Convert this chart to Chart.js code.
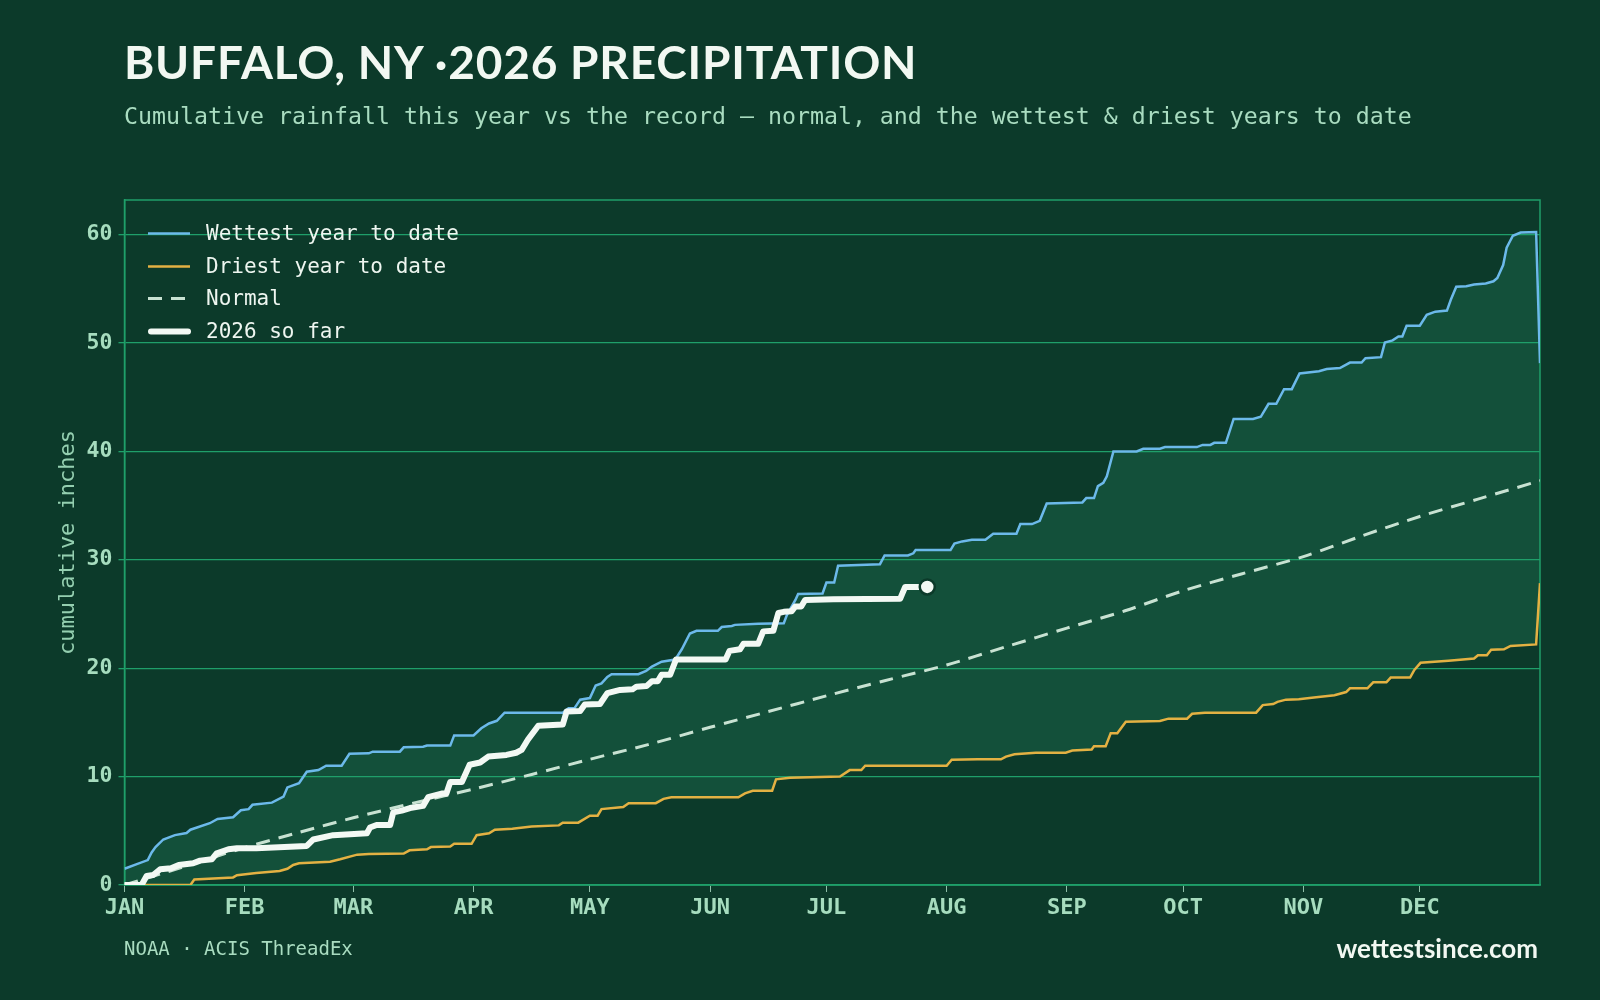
<!DOCTYPE html>
<html><head><meta charset="utf-8">
<script src="https://cdn.jsdelivr.net/npm/chart.js@4.4.1/dist/chart.umd.min.js"></script>
<style>
html,body{margin:0;padding:0;background:#0c3a2a;}
#wrap{position:relative;width:1600px;height:1000px;overflow:hidden;background:#0c3a2a;}
#c{position:absolute;left:0;top:0;}
.t{position:absolute;white-space:nowrap;line-height:1;}
#title{left:124px;top:34px;font:700 46px Lato,sans-serif;letter-spacing:0.8px;color:#f2f8f2;}
#sub{left:124px;top:102px;font:400 23.25px "DejaVu Sans Mono",monospace;color:#a9dcc0;}
#src{left:124px;top:937px;font:400 19px "DejaVu Sans Mono",monospace;color:#a9dcc0;}
#brand{right:62px;top:932px;font:700 26px Lato,sans-serif;color:#f2f8f2;}
.lg{position:absolute;left:148px;height:21px;}
.lg svg{position:absolute;left:0;top:0;}
.lg span{position:absolute;left:58px;top:0;font:400 21px "DejaVu Sans Mono",monospace;line-height:21px;color:#eef6f0;white-space:nowrap;}
</style></head>
<body><div id="wrap">
<canvas id="c" width="1600" height="1000"></canvas>
<div class="t" id="title">BUFFALO, NY ·2026 PRECIPITATION</div>
<div class="t" id="sub">Cumulative rainfall this year vs the record — normal, and the wettest &amp; driest years to date</div>
<div class="t" id="src">NOAA · ACIS ThreadEx</div>
<div class="t" id="brand">wettestsince.com</div>
<div id="legend"></div>
</div>
<script>
// ---- data (day of year index, cumulative inches) ----
const monthStarts = [0,31,59,90,120,151,181,212,243,273,304,334];
const monthLabels = ['JAN','FEB','MAR','APR','MAY','JUN','JUL','AUG','SEP','OCT','NOV','DEC'];
const yTicks = [0,10,20,30,40,50,60];
const yMax = 63.2;

const wetDays = [0,3,6,7,8,10,13,16,17,22,24,28,30,32,33,38,41,42,45,47,50,52,56,58,63,64,71,72,77,78,84,85,90,92,94,96,98,113,114.5,116,117.5,120,121.5,123,124.5,125.6,132.5,134.5,136,138.5,142,143.7,145.8,147.5,153,154,156.6,157.4,163.4,170,170.8,173,173.7,180,181,183,184,194.8,196,202,203.4,204,213,214,216,218.5,222,224,230,231,234,236,237.8,247,248,250,251,252.4,253.3,255,261,262.7,267,268.3,276.5,278,280,281,284,286,291,293,295,297,299,301,303,308,310,313.4,316,319,320,324,325,327,328.5,329.5,330.6,334,335.8,338,341,342,343.4,346,348,351,353,354,355.5,356.4,358,360,364,365];
const wetVals = [1.5,1.9,2.3,3.0,3.5,4.2,4.6,4.8,5.1,5.7,6.1,6.25,6.9,7.0,7.4,7.6,8.15,9.0,9.4,10.45,10.6,11.0,11.0,12.1,12.15,12.3,12.3,12.7,12.75,12.86,12.86,13.8,13.8,14.46,14.9,15.15,15.9,15.9,16.3,16.3,17.1,17.25,18.4,18.6,19.2,19.45,19.45,19.75,20.15,20.6,20.8,21.75,23.2,23.45,23.45,23.8,23.9,24.0,24.1,24.15,24.9,26.3,26.85,26.9,27.9,27.9,29.45,29.6,30.4,30.4,30.6,30.9,30.9,31.5,31.7,31.85,31.85,32.4,32.4,33.3,33.3,33.6,35.2,35.3,35.7,35.7,36.8,37.1,37.7,40.0,40.0,40.25,40.25,40.4,40.4,40.6,40.6,40.8,40.8,43.0,43.0,43.2,44.4,44.4,45.75,45.75,47.2,47.4,47.6,47.7,48.2,48.2,48.6,48.7,50.05,50.25,50.6,50.6,51.6,51.6,52.6,52.9,53.0,54.0,55.2,55.25,55.4,55.5,55.7,56.0,57.2,58.8,59.9,60.2,60.25,48.15];

const dryDays = [0,17,18,28,29,34,40,42,43.5,45,53,55.6,60,63,72,73.5,78,79,84,85,89.5,90.8,94,95.5,100,105,112,113,117,120,122,123,128.6,130,137,139,141,158.3,160,162,167,168,171.6,184.5,187,190,191,212,213.3,220,226,227.3,229.5,235,242.7,244.4,249.4,250,253,254.3,256,258.2,267,269.2,274,275.3,278.6,291.8,293.5,296.2,297.3,299.5,302.8,306.7,312,315,316,320.5,322,325.4,326.5,331.5,332.6,334.2,341.4,348,349,351.3,352.4,355.7,357.4,364,365];
const dryVals = [0,0,0.5,0.7,0.9,1.1,1.3,1.5,1.85,2.0,2.15,2.37,2.8,2.86,2.9,3.2,3.3,3.5,3.55,3.8,3.8,4.6,4.77,5.1,5.2,5.4,5.5,5.75,5.75,6.4,6.4,7.0,7.2,7.55,7.55,7.95,8.1,8.1,8.46,8.7,8.7,9.75,9.9,10.0,10.6,10.6,11.0,11.0,11.55,11.6,11.6,11.85,12.06,12.2,12.2,12.4,12.5,12.8,12.8,14.0,14.0,15.07,15.14,15.35,15.35,15.8,15.9,15.9,16.6,16.7,16.9,17.1,17.14,17.3,17.5,17.8,18.15,18.15,18.7,18.7,19.14,19.14,19.85,20.5,20.7,20.9,21.2,21.2,21.7,21.75,22.06,22.2,27.85];

const normDays = [0,15,31,45,59,75,90,105,120,135,151,166,181,196,212,227,243,258,273,288,304,319,334,349,365];
const normVals = [0,1.65,3.45,4.85,6.2,7.6,8.85,10.2,11.6,12.95,14.55,16.0,17.45,18.85,20.3,21.95,23.7,25.3,27.15,28.7,30.3,32.2,34.0,35.6,37.3];

const nowDays = [0,4.4,5.7,7.4,9.2,12,14,17.7,19.5,22.5,23.8,26.8,29,34,47,48.7,53.8,62.5,63.3,65,68.5,69.3,71.5,73.6,77,78.3,82,83,84,87,89,91.7,93.8,98.5,101,102.4,104,106.7,113,114,117.5,118.7,122.6,124.5,127.8,131,132,134.6,136,137.5,138.5,140.7,142.2,155,156,158.7,159.6,163.4,164.7,167.3,168.6,170,172,173,174.5,175.5,182.8,200,201.3,207];
const nowVals = [0,0,0.83,0.92,1.45,1.54,1.85,2.0,2.25,2.37,2.93,3.3,3.39,3.39,3.6,4.2,4.6,4.77,5.3,5.54,5.54,6.7,6.86,7.1,7.3,8.1,8.45,8.45,9.5,9.5,11.1,11.3,11.85,12.0,12.2,12.46,13.4,14.7,14.8,16.0,16.05,16.65,16.7,17.7,18.0,18.05,18.3,18.35,18.8,18.8,19.4,19.4,20.8,20.8,21.6,21.75,22.25,22.25,23.4,23.45,25.1,25.2,25.25,25.7,25.7,26.3,26.37,26.4,27.5,27.5];

const seriesNames = ['Wettest year to date','Driest year to date','Normal','2026 so far'];

// ---- styling ----
const BG = '#0c3a2a', GRID = '#1f9f6a', TICK = '#a6dcbe';
const COLORS = ['#6cb9ea','#e3b143','#c8e2d2','#f3f9f4'];

const pts = (xs, ys) => xs.map((x, i) => ({x, y: ys[i]}));

const frame = {
  id: 'frame',
  beforeDatasetsDraw(chart) {
    const a = chart.chartArea, ctx = chart.ctx;
    ctx.save(); ctx.strokeStyle = GRID; ctx.lineWidth = 1.5;
    ctx.strokeRect(a.left, a.top, a.right - a.left, a.bottom - a.top);
    ctx.restore();
  }
};

const nowLast = nowDays.length - 1;

new Chart(document.getElementById('c'), {
  type: 'line',
  data: {
    datasets: [
      {label: seriesNames[0], data: pts(wetDays, wetVals), borderColor: COLORS[0], borderWidth: 2.5,
       pointRadius: 0, fill: {target: '+1'}, backgroundColor: '#13503a', order: 2, tension: 0},
      {label: seriesNames[1], data: pts(dryDays, dryVals), borderColor: COLORS[1], borderWidth: 2.5,
       pointRadius: 0, fill: false, order: 3, tension: 0},
      {label: seriesNames[2], data: pts(normDays, normVals), borderColor: COLORS[2], borderWidth: 3,
       borderDash: [14, 9], pointRadius: 0, fill: false, order: 1, tension: 0.3},
      {label: seriesNames[3], data: pts(nowDays, nowVals), borderColor: COLORS[3], borderWidth: 6,
       borderCapStyle: 'round', borderJoinStyle: 'round', fill: false, order: 0, tension: 0,
       pointRadius: c => c.dataIndex === nowLast ? 7.5 : 0,
       pointBackgroundColor: COLORS[3], pointBorderColor: BG, pointBorderWidth: 2.5}
    ]
  },
  options: {
    responsive: false, animation: false, devicePixelRatio: 1,
    layout: {padding: {top: 200, right: 60, bottom: 70, left: 0}},
    plugins: {legend: {display: false}, tooltip: {enabled: false}, filler: {drawTime: 'beforeDraw'}},
    scales: {
      x: {
        type: 'linear', min: 0, max: 365,
        afterBuildTicks: s => { s.ticks = monthStarts.map(v => ({value: v})); },
        afterFit: s => { s.height = 45; },
        ticks: {autoSkip: false, maxRotation: 0, padding: 3, color: TICK,
          font: {family: 'DejaVu Sans Mono', weight: 'bold', size: 22},
          callback: (v, i) => monthLabels[i]},
        grid: {drawOnChartArea: false, drawTicks: true, tickLength: 7, tickColor: '#8fbfa8', tickWidth: 1},
        border: {color: GRID, width: 1.5}
      },
      y: {
        min: 0, max: yMax,
        afterBuildTicks: s => { s.ticks = yTicks.map(v => ({value: v})); },
        afterFit: s => { s.width = 124.5; },
        ticks: {padding: 6, color: TICK, font: {family: 'DejaVu Sans Mono', weight: 'bold', size: 21.5}},
        grid: {color: GRID, lineWidth: 1.3, tickLength: 6, tickColor: GRID},
        border: {color: GRID, width: 1.5},
        title: {display: true, text: 'cumulative inches', color: '#94cfb0',
          font: {family: 'DejaVu Sans Mono', size: 22}, padding: {top: 55, bottom: 0}}
      }
    }
  },
  plugins: [frame]
});

// ---- HTML legend (text as real text) ----
const lgTops = [223, 255.5, 288, 321];
const lg = document.getElementById('legend');
seriesNames.forEach((name, i) => {
  const d = document.createElement('div');
  d.className = 'lg'; d.style.top = lgTops[i] + 'px';
  const w = i === 3 ? 6 : (i === 2 ? 3 : 2.5);
  const dash = i === 2 ? 'stroke-dasharray="14 9"' : '';
  const cap = i === 3 ? 'round' : 'butt';
  d.innerHTML = `<svg width="50" height="21"><line x1="${i===3?3:0}" y1="10.5" x2="${i===3?40:42}" y2="10.5" stroke="${COLORS[i]}" stroke-width="${w}" stroke-linecap="${cap}" ${dash}/></svg><span>${name}</span>`;
  lg.appendChild(d);
});
</script>
</body></html>
